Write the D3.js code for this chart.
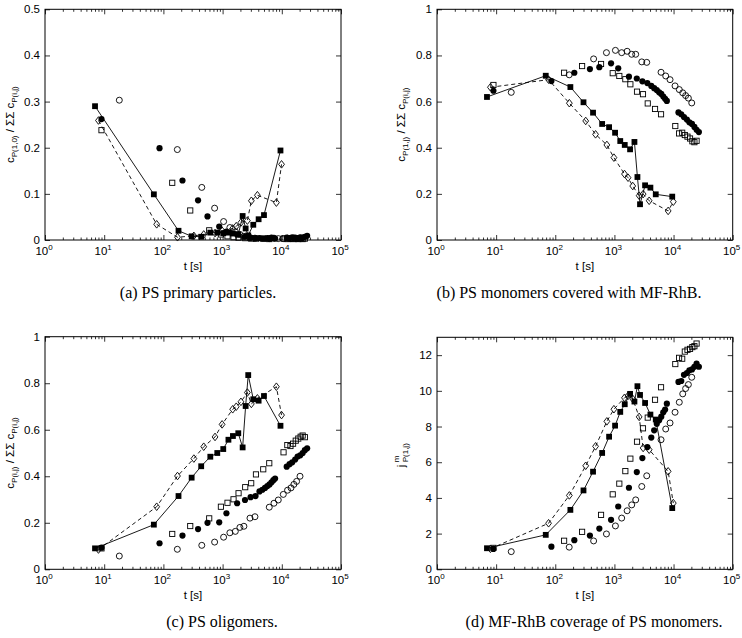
<!DOCTYPE html>
<html><head><meta charset="utf-8">
<script src="https://cdn.jsdelivr.net/npm/d3@7"></script>
<style>
body{margin:0;background:#fff}
svg{display:block}
text{font-family:"Liberation Sans",Arial,Helvetica,sans-serif;fill:#000}
.cap{font-family:"Liberation Serif","Times New Roman",serif}
</style>
</head><body>
<svg id="chart" width="742" height="638"></svg>
<script>
// ---------- time axes (s) of the five series ----------
const tFilledSq  = [7, 69, 180, 300, 435, 620, 813, 1026, 1255, 1495, 1840, 2180, 2450, 2710, 3300, 4060, 5000, 9500];
const tDiamond   = [8, 77, 173, 327, 480, 745, 980, 1480, 1700, 2040, 2620, 3060, 3870, 8100, 9900];
const tFilledCi  = [9, 86, 210, 385, 556, 877, 1160, 1760, 2390, 2970, 3600, 4200, 4700, 5200, 5700, 6200, 6700, 7200, 7700, 12100, 13500, 15000, 16800, 18500, 20500, 22500, 24500, 26800];
const tOpenCi    = [18, 172, 445, 733, 1040, 1327, 1640, 1960, 2290, 2900, 3520, 6140, 7370, 8720, 10600, 12500, 14300, 16000, 17800, 20300];
const tOpenSq    = [9, 141, 284, 594, 936, 1210, 1530, 1860, 2410, 3040, 3660, 4860, 6140, 10700, 12400, 14000, 15500, 17200, 19000, 20800, 22500, 24500];

// ---------- panel (a) PS primary particles ----------
const aFilledSq = [0.290, 0.099, 0.020, 0.008, 0.007, 0.016, 0.016, 0.015, 0.016, 0.014, 0.012, 0.052, 0.025, 0.010, 0.033, 0.045, 0.054, 0.194];
const aDiamond  = [0.259, 0.034, 0.006, 0.009, 0.012, 0.015, 0.020, 0.025, 0.030, 0.038, 0.042, 0.085, 0.097, 0.081, 0.164];
const aFilledCi = [0.262, 0.199, 0.129, 0.086, 0.051, 0.029, 0.018, 0.012, 0.007, 0.005, 0.004, 0.004, 0.003, 0.003, 0.004, 0.003, 0.005, 0.004, 0.003, 0.005, 0.004, 0.006, 0.005, 0.004, 0.006, 0.005, 0.007, 0.009];
const aOpenCi   = [0.303, 0.196, 0.114, 0.069, 0.040, 0.027, 0.018, 0.012, 0.008, 0.005, 0.004, 0.003, 0.004, 0.003, 0.003, 0.004, 0.003, 0.004, 0.003, 0.004];
const aOpenSq   = [0.238, 0.124, 0.064, 0.021, 0.012, 0.008, 0.006, 0.005, 0.004, 0.003, 0.003, 0.003, 0.002, 0.003, 0.002, 0.003, 0.002, 0.003, 0.002, 0.003, 0.002, 0.003];

// ---------- panel (b) PS monomers covered with MF-RhB ----------
const bFilledSq = [0.620, 0.712, 0.663, 0.597, 0.552, 0.503, 0.489, 0.465, 0.429, 0.412, 0.393, 0.425, 0.273, 0.155, 0.237, 0.227, 0.198, 0.188];
const bDiamond  = [0.662, 0.695, 0.593, 0.516, 0.458, 0.412, 0.357, 0.286, 0.270, 0.234, 0.192, 0.199, 0.170, 0.126, 0.166];
const bFilledCi = [0.647, 0.689, 0.725, 0.741, 0.749, 0.766, 0.744, 0.708, 0.700, 0.688, 0.680, 0.668, 0.658, 0.650, 0.640, 0.633, 0.622, 0.612, 0.603, 0.553, 0.545, 0.533, 0.522, 0.510, 0.503, 0.490, 0.478, 0.468];
const bOpenCi   = [0.640, 0.716, 0.785, 0.812, 0.822, 0.812, 0.818, 0.805, 0.805, 0.772, 0.770, 0.727, 0.711, 0.695, 0.668, 0.652, 0.638, 0.626, 0.615, 0.594];
const bOpenSq   = [0.672, 0.725, 0.754, 0.763, 0.723, 0.711, 0.697, 0.675, 0.643, 0.632, 0.592, 0.568, 0.545, 0.494, 0.462, 0.465, 0.455, 0.448, 0.440, 0.428, 0.424, 0.430];

// ---------- panel (c) PS oligomers ----------
const cFilledSq = [0.090, 0.192, 0.315, 0.394, 0.443, 0.484, 0.500, 0.517, 0.557, 0.573, 0.585, 0.524, 0.702, 0.835, 0.731, 0.725, 0.745, 0.617];
const cDiamond  = [0.085, 0.269, 0.401, 0.476, 0.527, 0.569, 0.623, 0.688, 0.699, 0.720, 0.760, 0.711, 0.735, 0.785, 0.663];
const cFilledCi = [0.093, 0.112, 0.145, 0.173, 0.200, 0.202, 0.241, 0.284, 0.298, 0.310, 0.315, 0.335, 0.342, 0.350, 0.358, 0.365, 0.374, 0.383, 0.390, 0.441, 0.452, 0.460, 0.472, 0.485, 0.490, 0.500, 0.512, 0.520];
const cOpenCi   = [0.057, 0.086, 0.103, 0.117, 0.138, 0.157, 0.163, 0.180, 0.185, 0.220, 0.226, 0.267, 0.284, 0.298, 0.322, 0.340, 0.350, 0.365, 0.378, 0.400];
const cOpenSq   = [0.090, 0.152, 0.186, 0.219, 0.269, 0.286, 0.301, 0.327, 0.353, 0.370, 0.408, 0.430, 0.456, 0.503, 0.534, 0.530, 0.540, 0.553, 0.562, 0.570, 0.575, 0.568];

// ---------- panel (d) MF-RhB coverage of PS monomers ----------
const dFilledSq = [1.18, 1.93, 3.33, 4.42, 5.47, 6.52, 7.43, 8.05, 8.82, 9.25, 9.83, 9.40, 10.26, 9.77, 9.32, 8.67, 8.39, 3.43];
const dDiamond  = [1.15, 2.58, 4.14, 5.80, 6.89, 8.29, 8.97, 9.61, 9.72, 9.55, 8.54, 6.80, 6.70, 5.49, 3.71];
const dFilledCi = [1.14, 1.27, 1.63, 1.89, 2.28, 2.77, 3.52, 4.57, 5.45, 6.23, 6.85, 7.38, 7.79, 8.15, 8.35, 8.55, 8.80, 8.95, 9.28, 10.50, 10.55, 10.90, 11.00, 11.15, 11.20, 11.35, 11.53, 11.35];
const dOpenCi   = [0.99, 1.24, 1.59, 1.98, 2.43, 2.87, 3.28, 3.61, 3.89, 4.64, 5.24, 7.26, 7.86, 8.20, 8.80, 9.36, 9.83, 10.13, 10.35, 10.76];
const dOpenSq   = [1.20, 1.60, 2.10, 3.05, 4.20, 4.80, 5.50, 6.20, 7.15, 7.90, 8.50, 9.50, 10.20, 11.50, 11.85, 11.80, 12.20, 12.30, 12.35, 12.45, 12.50, 12.65];

// ---------- tick labels ----------
const xTickExp   = [0, 1, 2, 3, 4, 5];
const yTicksFrac5 = [0, 0.1, 0.2, 0.3, 0.4, 0.5];
const yTicksFrac1 = [0, 0.2, 0.4, 0.6, 0.8, 1];
const yTicksCov   = [0, 2, 4, 6, 8, 10, 12];

const zip = (t, v) => t.map((d, i) => ({t: d, v: v[i]}));

const panels = [
  {left:45,  right:341, top:9.3,   bottom:240,   ymax:0.5, yticks:yTicksFrac5, ylx:14,
   caption:"(a)  PS primary particles.", capX:198, capY:298, ylabel:"a",
   sq:aFilledSq, di:aDiamond, fc:aFilledCi, oc:aOpenCi, os:aOpenSq},
  {left:437, right:732.7, top:9.3, bottom:240,   ymax:1,   yticks:yTicksFrac1, ylx:405,
   caption:"(b)  PS monomers covered with MF-RhB.", capX:569, capY:298, ylabel:"b",
   sq:bFilledSq, di:bDiamond, fc:bFilledCi, oc:bOpenCi, os:bOpenSq},
  {left:45,  right:341, top:336.7, bottom:569.3, ymax:1,   yticks:yTicksFrac1, ylx:14,
   caption:"(c)  PS oligomers.", capX:222, capY:627, ylabel:"c",
   sq:cFilledSq, di:cDiamond, fc:cFilledCi, oc:cOpenCi, os:cOpenSq},
  {left:437, right:732.7, top:337.3, bottom:569.3, ymax:13, yticks:yTicksCov, ylx:405,
   caption:"(d)  MF-RhB coverage of PS monomers.", capX:594, capY:627, ylabel:"d",
   sq:dFilledSq, di:dDiamond, fc:dFilledCi, oc:dOpenCi, os:dOpenSq}
];

const svg = d3.select("#chart");
const majors = xTickExp.map(e => Math.pow(10, e));
const minors = [];
for (let e = 0; e < 5; e++) for (let m = 2; m <= 9; m++) minors.push(m * Math.pow(10, e));

function strip(g){ g.select(".domain").remove(); g.selectAll(".tick line").attr("stroke","#000").attr("stroke-width",0.8); }

function drawPanel(p){
  const x = d3.scaleLog().domain([1, 1e5]).range([p.left, p.right]);
  const y = d3.scaleLinear().domain([0, p.ymax]).range([p.bottom, p.top]);
  const g = svg.append("g");

  // ticks (inward, mirrored like MATLAB box)
  g.append("g").attr("transform",`translate(0,${p.bottom})`)
    .call(d3.axisBottom(x).tickValues(majors).tickSize(-5).tickFormat("")).call(strip);
  g.append("g").attr("transform",`translate(0,${p.bottom})`)
    .call(d3.axisBottom(x).tickValues(minors).tickSize(-2.5).tickFormat("")).call(strip);
  g.append("g").attr("transform",`translate(0,${p.top})`)
    .call(d3.axisTop(x).tickValues(majors).tickSize(-5).tickFormat("")).call(strip);
  g.append("g").attr("transform",`translate(0,${p.top})`)
    .call(d3.axisTop(x).tickValues(minors).tickSize(-2.5).tickFormat("")).call(strip);
  g.append("g").attr("transform",`translate(${p.left},0)`)
    .call(d3.axisLeft(y).tickValues(p.yticks).tickSize(-5).tickFormat("")).call(strip);
  g.append("g").attr("transform",`translate(${p.right},0)`)
    .call(d3.axisRight(y).tickValues(p.yticks).tickSize(-5).tickFormat("")).call(strip);

  // frame
  g.append("rect").attr("x",p.left).attr("y",p.top)
    .attr("width",p.right-p.left).attr("height",p.bottom-p.top)
    .attr("fill","none").attr("stroke","#000").attr("stroke-width",1);

  // y tick labels
  g.selectAll(".yl").data(p.yticks).join("text")
    .attr("x", p.left - 5).attr("y", d => y(d)).attr("dy","0.35em")
    .attr("text-anchor","end").attr("font-size",11.5)
    .text(d => d);

  // x tick labels 10^k
  xTickExp.forEach(e => {
    const t = g.append("text").attr("x", x(Math.pow(10,e)) - 1).attr("y", p.bottom + 15)
      .attr("text-anchor","middle").attr("font-size",11.5);
    t.append("tspan").text("10");
    t.append("tspan").attr("font-size",8).attr("dy",-5).text(e);
  });

  // x label
  g.append("text").attr("x",(p.left+p.right)/2).attr("y",p.bottom+30)
    .attr("text-anchor","middle").attr("font-size",11.5).text("t [s]");

  // y label
  const cy = (p.top+p.bottom)/2;
  const yl = g.append("g").attr("transform",`translate(${p.ylx},${cy}) rotate(-90)`);
  if (p.ylabel === "d") {
    yl.append("text").attr("x",-14).attr("y",0).attr("font-size",11.5).text("j");
    yl.append("text").attr("x",-9).attr("y",-6).attr("font-size",8).text("m");
    yl.append("text").attr("x",-9).attr("y",3).attr("font-size",8).text("P(1,j)");
  } else {
    const sub1 = p.ylabel === "a" ? "P(1,0)" : (p.ylabel === "b" ? "P(1,j)" : "P(i,j)");
    const t = yl.append("text").attr("text-anchor","middle").attr("font-size",11.5);
    t.append("tspan").text("c");
    t.append("tspan").attr("font-size",8).attr("dy",3).text(sub1);
    t.append("tspan").attr("dy",-3).text(" / \u03A3\u03A3 c");
    t.append("tspan").attr("font-size",8).attr("dy",3).text("P(i,j)");
  }

  // caption
  svg.append("text").attr("class","cap").attr("x",p.capX).attr("y",p.capY)
    .attr("text-anchor","middle").attr("font-size",16).text(p.caption);

  // data marks
  const os = zip(tOpenSq, p.os), oc = zip(tOpenCi, p.oc), fc = zip(tFilledCi, p.fc);
  const di = zip(tDiamond, p.di), sq = zip(tFilledSq, p.sq);

  g.selectAll(".oc").data(oc).join("circle")
    .attr("cx",d=>x(d.t)).attr("cy",d=>y(d.v)).attr("r",3)
    .attr("fill","none").attr("stroke","#000").attr("stroke-width",0.9);
  g.selectAll(".os").data(os).join("rect")
    .attr("x",d=>x(d.t)-2.6).attr("y",d=>y(d.v)-2.6).attr("width",5.2).attr("height",5.2)
    .attr("fill","none").attr("stroke","#000").attr("stroke-width",0.9);
  g.selectAll(".fc").data(fc).join("circle")
    .attr("cx",d=>x(d.t)).attr("cy",d=>y(d.v)).attr("r",3.1).attr("fill","#000");

  const line = d3.line().x(d=>x(d.t)).y(d=>y(d.v));
  g.append("path").datum(di).attr("d",line).attr("fill","none")
    .attr("stroke","#000").attr("stroke-width",0.9).attr("stroke-dasharray","4,3");
  g.selectAll(".di").data(di).join("path")
    .attr("transform",d=>`translate(${x(d.t)},${y(d.v)})`)
    .attr("d","M0,-3.8L2.9,0L0,3.8L-2.9,0Z")
    .attr("fill","none").attr("stroke","#000").attr("stroke-width",0.9);

  g.append("path").datum(sq).attr("d",line).attr("fill","none")
    .attr("stroke","#000").attr("stroke-width",0.9);
  g.selectAll(".sq").data(sq).join("rect")
    .attr("x",d=>x(d.t)-2.9).attr("y",d=>y(d.v)-2.9).attr("width",5.8).attr("height",5.8)
    .attr("fill","#000");
}

panels.forEach(drawPanel);
</script>
</body></html>
